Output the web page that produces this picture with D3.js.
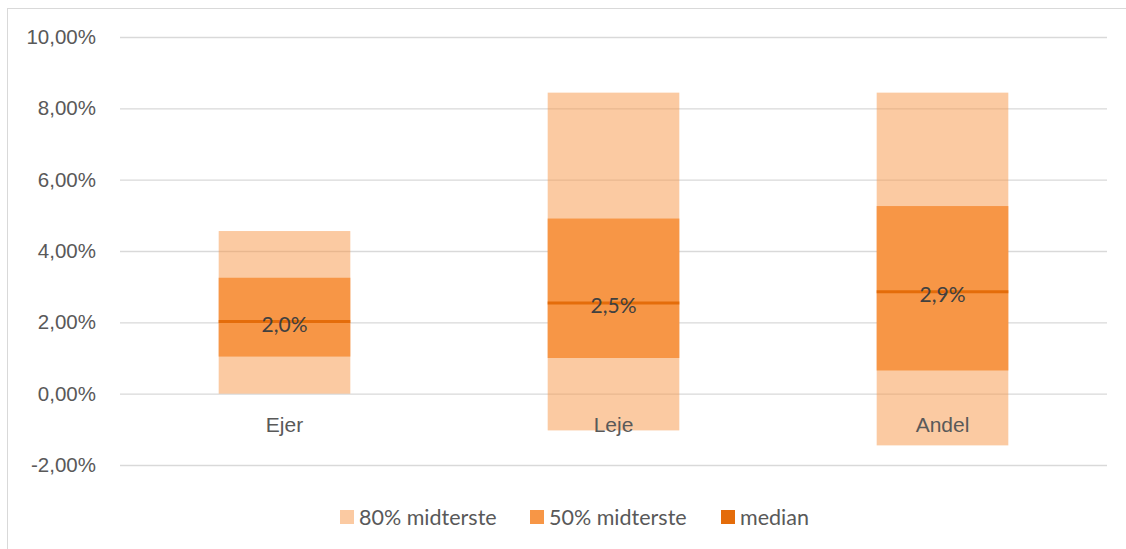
<!DOCTYPE html>
<html>
<head>
<meta charset="utf-8">
<script src="https://cdn.jsdelivr.net/npm/d3@7"></script>
<style>
  html, body { margin: 0; padding: 0; background: #fff; }
  svg { display: block; font-family: Lato, "Open Sans", sans-serif; }
</style>
</head>
<body>
<svg id="chart" width="1126" height="549"></svg>
<script>
// Distribution bands per housing type (percent)
const categories = ["Ejer", "Leje", "Andel"];
const p10 = [0.0, -1.03, -1.45];
const p25 = [1.04, 1.0, 0.65];
const median = [2.02, 2.54, 2.86];
const p75 = [3.25, 4.91, 5.26];
const p90 = [4.56, 8.44, 8.44];
const yTicks = [-2, 0, 2, 4, 6, 8, 10];
const legendLabels = ["80% midterste", "50% midterste", "median"];

const colors = { outer: "#F79646", inner: "#F79646", median: "#E46C0A" };

const svg = d3.select("#chart");
const margin = { left: 120, right: 19 };
const W = 1126;

// chart area frame
svg.append("rect")
  .attr("x", 7.5).attr("y", 8.5)
  .attr("width", 1130).attr("height", 560)
  .attr("fill", "none").attr("stroke", "#D9D9D9").attr("stroke-width", 1);

const y = d3.scaleLinear().domain([-2, 10]).range([465, 37]);
const x = d3.scaleBand().domain(categories)
  .range([margin.left, W - margin.right])
  .paddingInner(0.6).paddingOuter(0.3);

const fmtTick = v => v.toFixed(2).replace(".", ",") + "%";
const fmtLabel = v => v.toFixed(1).replace(".", ",") + "%";

// gridlines + tick labels
const yAxis = d3.axisLeft(y).tickValues(yTicks)
  .tickSize(-(W - margin.right - margin.left)).tickFormat(fmtTick).tickPadding(24);
const gy = svg.append("g").attr("transform", `translate(${margin.left},0)`).call(yAxis);
gy.select(".domain").remove();
gy.selectAll(".tick line").attr("stroke", "#D9D9D9").attr("stroke-width", 1.3);
gy.selectAll(".tick text").attr("fill", "#595959").attr("font-size", 20.5);

const data = categories.map((c, i) => ({ c, p10: p10[i], p25: p25[i], m: median[i], p75: p75[i], p90: p90[i] }));

const g = svg.append("g");
// 80% band
g.selectAll(".outer").data(data).join("rect")
  .attr("x", d => x(d.c)).attr("width", x.bandwidth())
  .attr("y", d => y(d.p90)).attr("height", d => y(d.p10) - y(d.p90))
  .attr("fill", colors.outer).attr("fill-opacity", 0.5);
// 50% band
g.selectAll(".inner").data(data).join("rect")
  .attr("x", d => x(d.c)).attr("width", x.bandwidth())
  .attr("y", d => y(d.p75)).attr("height", d => y(d.p25) - y(d.p75))
  .attr("fill", colors.inner);
// median line
g.selectAll(".med").data(data).join("line")
  .attr("x1", d => x(d.c)).attr("x2", d => x(d.c) + x.bandwidth())
  .attr("y1", d => y(d.m)).attr("y2", d => y(d.m))
  .attr("stroke", colors.median).attr("stroke-width", 3);
// median labels
g.selectAll(".mlab").data(data).join("text")
  .attr("x", d => x(d.c) + x.bandwidth() / 2).attr("y", d => y(d.m) + 10)
  .attr("text-anchor", "middle").attr("font-size", 21).attr("fill", "#404040")
  .text(d => fmtLabel(d.m));

// category labels
const xAxis = d3.axisBottom(x).tickSize(0).tickPadding(0);
const gx = svg.append("g").attr("transform", `translate(0,${y(0)})`).call(xAxis);
gx.select(".domain").remove();
gx.selectAll(".tick text").attr("fill", "#595959").attr("font-size", 21)
  .attr("dy", null).attr("y", 38);

// legend
const legendColors = [colors.outer, colors.inner, colors.median];
const legendOpacity = [0.5, 1, 1];
const legendX = [340, 530, 721];
const lg = svg.append("g");
legendLabels.forEach((t, i) => {
  lg.append("rect").attr("x", legendX[i]).attr("y", 510).attr("width", 14).attr("height", 14)
    .attr("fill", legendColors[i]).attr("fill-opacity", legendOpacity[i]);
  lg.append("text").attr("x", legendX[i] + 19).attr("y", 524.5)
    .attr("font-size", 21.5).attr("fill", "#595959").text(t);
});
</script>
</body>
</html>
